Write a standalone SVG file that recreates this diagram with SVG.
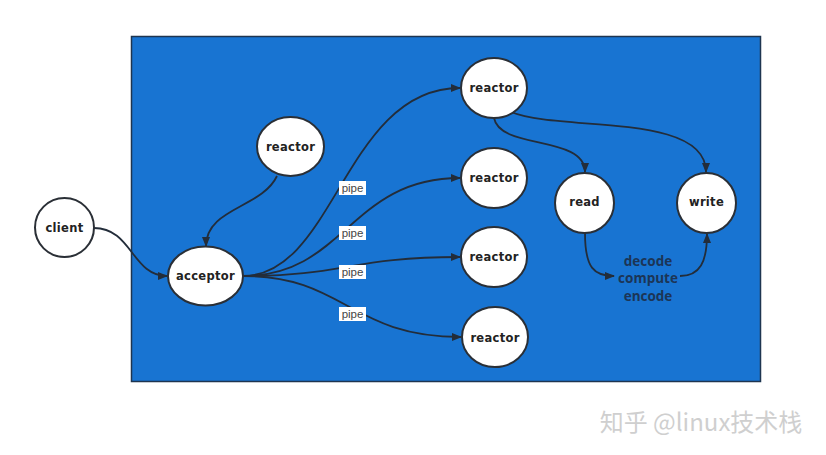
<svg xmlns="http://www.w3.org/2000/svg" width="826" height="455" viewBox="0 0 826 455">
<defs>
<style>
.node ellipse{fill:#fff;stroke:#2a2f36;stroke-width:2}
.node text{font-family:"DejaVu Sans",sans-serif;font-weight:bold;font-size:11.5px;fill:#222;text-anchor:middle;dominant-baseline:central;letter-spacing:0.3px}
.edge{fill:none;stroke:#232d3a;stroke-width:1.8;marker-end:url(#arr)}
.lbl rect{fill:#fff}
.lbl text{font-family:"Liberation Sans",Arial,sans-serif;font-size:11.5px;fill:#444;text-anchor:middle;dominant-baseline:central}
.proc{font-family:"Open Sans","Liberation Sans",sans-serif;font-weight:bold;font-size:13.5px;fill:#1c3556;text-anchor:middle}
</style>
<marker id="arr" viewBox="0 0 10 10" refX="9" refY="5" markerWidth="10" markerHeight="10" markerUnits="userSpaceOnUse" orient="auto">
<path d="M0,1 L10,5 L0,9 Z" fill="#232d3a"/>
</marker>
</defs>
<rect x="0" y="0" width="826" height="455" fill="#fff"/>
<rect id="panel" x="131.5" y="36.5" width="629" height="345" fill="#1874d2" stroke="#1e3550" stroke-width="1.5"/>
<g id="connectors">
<path class="edge" d="M94,228 C132,228 132,276 167,276"/>
<path class="edge" d="M277,176 C262,208 206,208 206,246"/>
<path class="edge" d="M243,276 C335,276 345,88 460,88"/>
<path class="edge" d="M243,276 C345,276 350,178 460,178"/>
<path class="edge" d="M243,276 C345,276 350,257 460,257"/>
<path class="edge" d="M243,276 C345,276 350,337 461,337"/>
<path class="edge" d="M494,118 C500,150 585,135 585,172"/>
<path class="edge" d="M511,112 C560,132 706,112 706,172"/>
<path class="edge" d="M585,233 C585,268 594,276 614,276"/>
<path class="edge" d="M680,276 C700,276 707,262 707,234"/>
</g>
<g id="labels">
<g class="lbl"><rect x="339" y="181" width="27" height="14"/><text x="352.5" y="188">pipe</text></g>
<g class="lbl"><rect x="339" y="226" width="27" height="14"/><text x="352.5" y="233">pipe</text></g>
<g class="lbl"><rect x="339" y="265" width="27" height="14"/><text x="352.5" y="272">pipe</text></g>
<g class="lbl"><rect x="339" y="307" width="27" height="14"/><text x="352.5" y="314">pipe</text></g>
</g>
<g id="client" class="node"><ellipse cx="64.5" cy="227.5" rx="29.5" ry="29.5"/><text x="64.5" y="228">client</text></g>
<g id="acceptor" class="node"><ellipse cx="205.5" cy="276" rx="37.5" ry="29.5"/><text x="205.5" y="276">acceptor</text></g>
<g id="reactor0" class="node"><ellipse cx="290.5" cy="146.5" rx="33.5" ry="29.5"/><text x="290.5" y="147">reactor</text></g>
<g id="reactor1" class="node"><ellipse cx="494" cy="88" rx="33" ry="30"/><text x="494" y="88">reactor</text></g>
<g id="reactor2" class="node"><ellipse cx="494" cy="178" rx="33" ry="30"/><text x="494" y="178">reactor</text></g>
<g id="reactor3" class="node"><ellipse cx="494" cy="257" rx="33" ry="30"/><text x="494" y="257">reactor</text></g>
<g id="reactor4" class="node"><ellipse cx="495" cy="337" rx="33" ry="30"/><text x="495" y="338">reactor</text></g>
<g id="read" class="node"><ellipse cx="584.5" cy="203" rx="29.5" ry="30"/><text x="584.5" y="202">read</text></g>
<g id="write" class="node"><ellipse cx="706.5" cy="203" rx="29.5" ry="30"/><text x="706.5" y="202">write</text></g>
<g id="process">
<text class="proc" x="648" y="266">decode</text>
<text class="proc" x="648" y="283">compute</text>
<text class="proc" x="648" y="301">encode</text>
</g>
<text x="701" y="431" font-family="'Noto Sans CJK SC','Noto Sans',sans-serif" font-size="24" fill="#cfcfcf" text-anchor="middle">知乎 @linux技术栈</text>
</svg>
